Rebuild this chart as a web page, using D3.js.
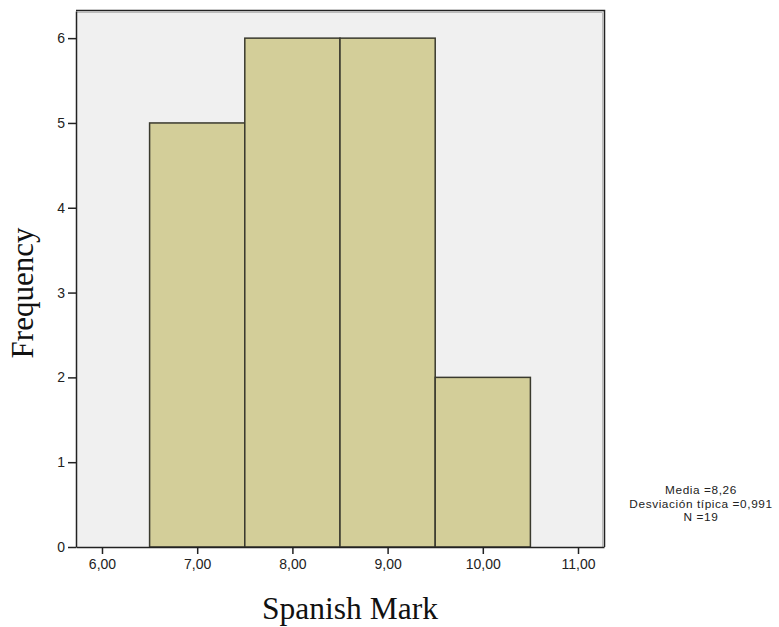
<!DOCTYPE html>
<html><head><meta charset="utf-8">
<script src="https://cdn.jsdelivr.net/npm/d3@7"></script>
<style>body{margin:0;background:#fff}</style>
</head><body>
<svg id="c" width="779" height="627"></svg>
<script>
const binStarts = [6.5, 7.5, 8.5, 9.5];
const binEnds = [7.5, 8.5, 9.5, 10.5];
const frequencies = [5, 6, 6, 2];
const xTicks = [6, 7, 8, 9, 10, 11];
const yTicks = [0, 1, 2, 3, 4, 5, 6];
const statsLines = ["Media =8,26", "Desviación típica =0,991", "N =19"];

const svg = d3.select("#c");
const L = 76, T = 11, R = 604, B = 547;
const x = d3.scaleLinear().domain([5.727, 11.273]).range([L, R]);
const y = d3.scaleLinear().domain([0, 6.32]).range([B, T]);

svg.append("rect").attr("x", L).attr("y", T).attr("width", R - L).attr("height", B - T)
  .attr("fill", "#f0f0f0");

svg.selectAll("rect.bar").data(frequencies).enter().append("rect").attr("class", "bar")
  .attr("x", (d, i) => x(binStarts[i]))
  .attr("y", d => y(d))
  .attr("width", (d, i) => x(binEnds[i]) - x(binStarts[i]))
  .attr("height", d => y(0) - y(d))
  .attr("fill", "#d3ce99").attr("stroke", "#3a3a2e").attr("stroke-width", 1.5);

// frame top/right with shadow
svg.append("path").attr("d", `M${L},${T - 0.5}H${R + 0.5}V${B}`).attr("fill", "none")
  .attr("stroke", "#222").attr("stroke-width", 1.5);
svg.append("path").attr("d", `M${L},${T + 1.5}H${R - 1.5}V${B}`).attr("fill", "none")
  .attr("stroke", "#bbb").attr("stroke-width", 1);

const fmt = v => d3.format(".2f")(v).replace(".", ",");
const xAxis = svg.append("g").attr("transform", `translate(0,${B})`)
  .call(d3.axisBottom(x).tickValues(xTicks).tickFormat(fmt).tickSize(7).tickPadding(5).tickSizeOuter(0));
const yAxis = svg.append("g").attr("transform", `translate(${L},0)`)
  .call(d3.axisLeft(y).tickValues(yTicks).tickFormat(d3.format("d")).tickSize(8).tickPadding(3).tickSizeOuter(0));
[xAxis, yAxis].forEach(g => {
  g.attr("font-size", null).attr("font-family", null);
  g.select(".domain").attr("stroke", "#222").attr("stroke-width", 1.5);
  g.selectAll(".tick line").attr("stroke", "#222").attr("stroke-width", 1.5);
  g.selectAll("text").attr("fill", "#222").style("font-family", "'Liberation Sans', Arial, sans-serif").style("font-size", "14px");
});

svg.append("text").attr("x", 350).attr("y", 619).attr("text-anchor", "middle")
  .style("font-family", "'Liberation Serif', 'Times New Roman', serif").style("font-size", "31.5px")
  .attr("fill", "#111").text("Spanish Mark");
svg.append("text").attr("transform", "translate(33,293) rotate(-90)").attr("text-anchor", "middle")
  .style("font-family", "'Liberation Serif', 'Times New Roman', serif").style("font-size", "31px")
  .attr("fill", "#111").text("Frequency");

svg.append("g").selectAll("text").data(statsLines).enter().append("text")
  .attr("x", 701).attr("y", (d, i) => 494 + i * 13.5).attr("text-anchor", "middle")
  .style("font-family", "'Liberation Sans', Arial, sans-serif").style("font-size", "11.8px")
  .style("letter-spacing", "0.6px")
  .attr("fill", "#222").text(d => d);
</script>
</body></html>
